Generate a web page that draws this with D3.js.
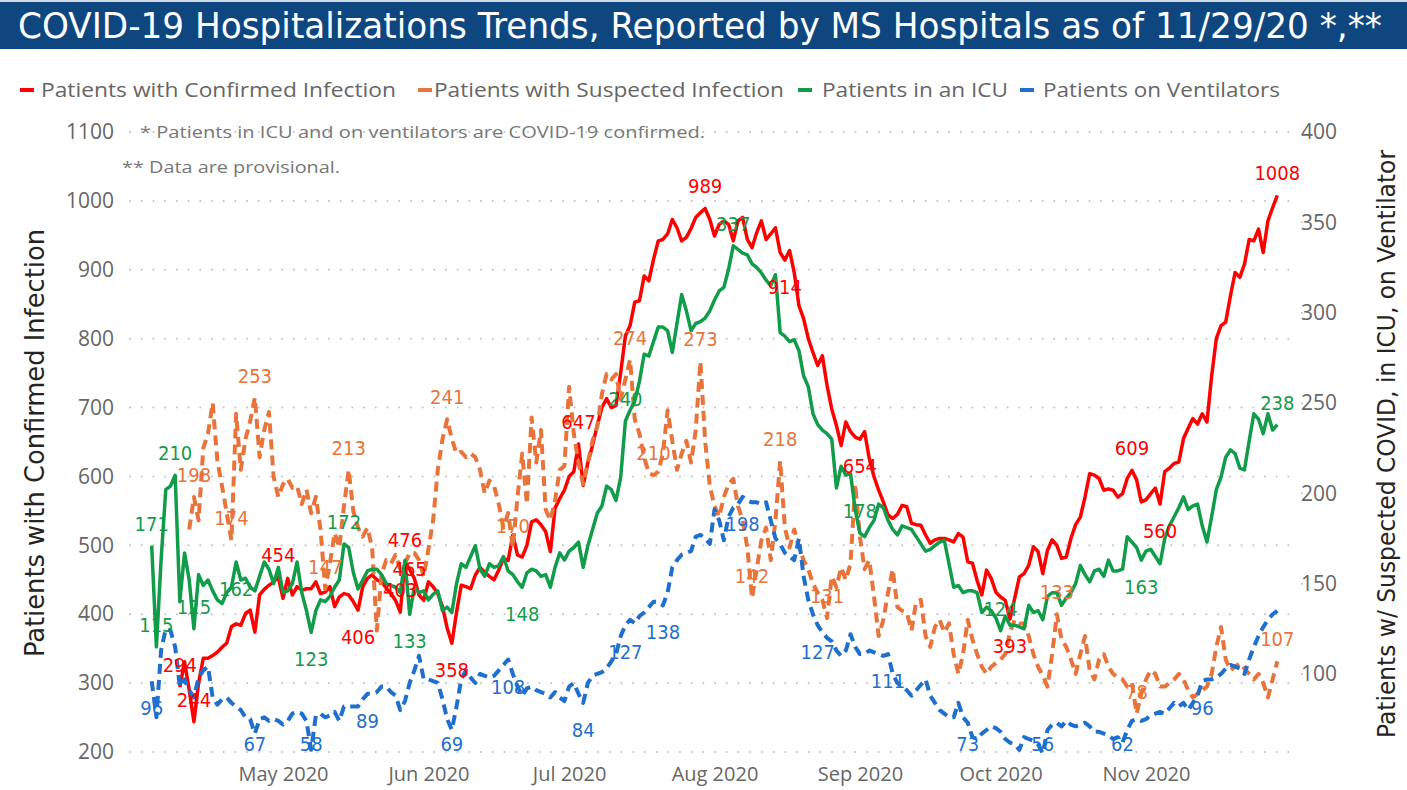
<!DOCTYPE html>
<html>
<head>
<meta charset="utf-8">
<script src="https://cdn.jsdelivr.net/npm/d3@7"></script>
<style>
  body { margin: 0; background: #fff; }
  .tick text { font-family: "Open Sans", "Segoe UI", sans-serif; fill: #666; }
</style>
</head>
<body>
<svg id="chart" width="1407" height="790"></svg>
<script>
// daily dates, Apr 3 .. Nov 29 2020
const days = d3.timeDay.range(new Date(2020, 3, 3), new Date(2020, 10, 30));

const confirmed = [
  null,null,null,null,null,null,294,331,290,244,
  300,336,336,340,345,352,358,382,386,384,
  401,406,374,428,436,442,447,454,423,452,
  428,440,435,437,437,447,430,432,440,411,
  425,430,428,418,406,440,452,457,450,447,
  438,430,420,403,476,465,452,428,420,447,
  440,430,411,380,358,403,442,440,437,457,
  468,461,455,450,464,481,478,515,486,483,
  500,534,537,530,520,491,554,568,580,600,
  607,647,587,620,645,674,700,713,700,703,
  751,804,819,853,855,891,884,915,942,944,
  952,973,961,942,947,960,976,983,989,973,
  949,966,971,966,942,971,976,944,932,954,
  971,944,952,961,925,914,928,896,848,829,
  800,780,761,775,732,698,674,645,679,665,
  657,654,665,626,600,580,563,544,539,545,
  558,556,532,530,529,515,503,508,510,510,
  508,505,517,512,476,474,449,428,464,452,
  432,425,420,393,423,454,459,471,498,491,
  459,493,508,500,481,483,510,530,541,570,
  604,602,597,580,582,580,570,575,597,609,
  595,563,566,575,583,560,607,612,619,621,
  655,670,684,676,691,679,746,800,819,824,
  862,896,889,908,944,942,959,925,971,990,
  1008
];

const suspected = [
  null,null,null,null,null,null,null,null,180,198,
  185,225,233,250,218,204,189,174,244,213,
  230,240,253,220,235,245,209,198,205,208,
  203,204,194,202,189,198,180,147,161,178,
  170,193,213,190,181,176,181,170,124,155,
  163,161,166,158,161,167,167,163,154,169,
  185,213,230,241,230,222,223,220,222,220,
  213,200,207,204,194,181,189,170,198,222,
  194,242,217,235,191,185,196,213,215,259,
  233,217,205,217,229,237,255,266,263,266,
  252,263,274,241,233,220,211,210,212,222,
  246,229,213,222,229,217,235,273,229,204,
  193,187,198,205,208,193,185,170,142,158,
  174,181,163,185,218,181,170,180,170,163,
  158,150,145,141,131,154,148,159,152,161,
  205,176,158,163,143,121,130,145,158,137,
  135,134,124,140,141,121,115,126,130,123,
  128,111,100,111,130,119,111,104,100,104,
  106,108,111,123,130,128,128,121,111,104,
  99,93,111,133,119,115,108,100,111,121,
  102,97,108,111,104,100,98,97,93,95,
  78,89,97,102,100,93,93,95,97,100,
  97,91,87,89,91,93,100,115,126,108,
  102,104,106,103,100,97,100,95,87,97,
  107
];

const icu = [
  171,115,163,202,204,210,140,167,152,125,
  155,149,152,146,141,139,145,148,162,152,
  153,148,146,154,162,158,150,159,145,146,
  150,162,145,135,123,135,141,140,143,148,
  152,172,170,156,147,152,157,158,158,155,
  150,149,148,145,163,133,148,145,146,141,
  144,146,135,137,134,150,161,159,165,171,
  158,154,161,159,160,165,157,155,151,148,
  156,158,157,154,155,148,159,167,163,168,
  170,173,159,171,180,189,193,204,202,196,
  209,240,246,251,262,277,276,284,292,292,
  290,278,294,310,301,290,294,295,297,301,
  307,312,314,324,337,335,333,332,327,325,
  322,318,315,321,289,287,284,285,279,265,
  259,244,238,235,233,230,203,215,210,211,
  191,178,176,181,185,194,192,185,180,177,
  182,181,180,176,172,168,169,171,173,174,
  161,148,149,145,146,146,145,134,137,135,
  131,124,132,127,127,126,125,138,134,135,
  130,143,145,145,138,142,145,150,160,155,
  151,157,158,154,163,157,157,158,176,173,
  170,163,168,169,165,161,175,182,187,192,
  198,191,193,194,182,173,187,202,209,220,
  224,222,214,213,229,244,241,233,244,235,
  238
];

const ventilators = [
  96,76,113,125,124,115,93,97,91,87,
  98,102,104,87,83,86,87,84,82,80,
  76,75,67,75,76,74,75,74,72,74,
  78,79,78,74,58,77,78,76,77,79,
  74,82,82,82,82,86,89,89,90,93,
  93,90,88,80,85,95,102,110,97,97,
  96,95,86,75,69,82,97,102,98,95,
  100,99,98,99,102,105,108,100,93,88,
  92,93,91,90,89,87,90,87,85,93,
  95,89,84,95,99,100,101,103,107,111,
  121,127,130,128,132,134,137,140,140,138,
  145,159,163,166,167,168,176,177,175,172,
  191,185,174,187,192,194,198,196,195,195,
  194,195,185,175,172,167,165,163,175,154,
  141,133,127,123,120,118,113,110,113,122,
  115,111,111,113,112,111,110,111,100,95,
  93,91,88,91,94,97,88,84,80,78,
  76,76,84,76,73,65,64,67,69,71,
  70,68,64,62,61,58,65,64,63,61,
  56,69,72,73,71,74,72,71,72,73,
  71,68,68,67,66,64,65,62,69,74,
  75,74,75,77,78,79,78,81,84,82,
  84,80,84,88,96,97,97,98,100,103,
  105,104,103,100,108,115,121,126,130,133,
  135
];

const leftTicks = [200, 300, 400, 500, 600, 700, 800, 900, 1000, 1100];
const rightTicks = [100, 150, 200, 250, 300, 350, 400];
const monthTicks = d3.timeMonth.range(new Date(2020, 4, 1), new Date(2020, 11, 1));

// which points carry a data label (day index, a = above, b = below, c = on point)
const confirmedLabels = [[6,'a'],[9,'a'],[27,'a'],[44,'b'],[53,'a'],[54,'a'],[55,'c'],[64,'b'],[91,'a'],[118,'a'],[135,'b'],[151,'b'],[183,'b'],[209,'a'],[215,'b'],[240,'a']];
const suspectedLabels = [[9,'a'],[17,'a'],[22,'a'],[37,'a'],[42,'a'],[63,'a'],[77,'a'],[102,'a'],[107,'a'],[117,'a'],[128,'a'],[134,'a'],[144,'a'],[193,'a'],[210,'a'],[240,'a']];
const icuLabels = [[0,'a'],[1,'a'],[5,'a'],[9,'a'],[18,'b'],[34,'b'],[41,'a'],[55,'b'],[79,'b'],[101,'a'],[124,'a'],[151,'a'],[181,'a'],[211,'b'],[240,'a']];
const ventLabels = [[0,'b'],[22,'b'],[34,'b'],[46,'b'],[64,'b'],[76,'b'],[92,'b'],[101,'b'],[109,'b'],[126,'b'],[142,'b'],[157,'b'],[174,'b'],[190,'b'],[207,'b'],[224,'b']];

const svg = d3.select("#chart");
const plotLeft = 130, plotRight = 1297, plotTop = 132, plotBottom = 752;

const x = d3.scaleTime()
  .domain([days[0], days[days.length - 1]])
  .range([151.7, 1277.3]);
const yLeft = d3.scaleLinear().domain([200, 1100]).range([plotBottom, plotTop]);
const yRight = d3.scaleLinear().domain([56.8, 400]).range([plotBottom, plotTop]);

const narrow = "'Liberation Sans Narrow', 'DejaVu Sans Condensed', sans-serif";

// title bar
svg.append("rect").attr("x", 0).attr("y", 0).attr("width", 1407).attr("height", 2).attr("fill", "#cfd9e5");
svg.append("rect").attr("x", 0).attr("y", 2).attr("width", 1407).attr("height", 47).attr("fill", "#0e4780");
svg.append("text")
  .attr("x", 18).attr("y", 38)
  .attr("textLength", 1364).attr("lengthAdjust", "spacingAndGlyphs")
  .style("font-family", narrow)
  .style("font-size", "36px")
  .attr("fill", "#fff")
  .text("COVID-19 Hospitalizations Trends, Reported by MS Hospitals as of 11/29/20 *,**");

// legend
const legend = [
  { name: "Patients with Confirmed Infection", color: "#ff0000", mx: 20, tx: 41, tw: 355 },
  { name: "Patients with Suspected Infection", color: "#e8743b", mx: 418, tx: 434, tw: 350 },
  { name: "Patients in an ICU", color: "#119c4a", mx: 798, tx: 822, tw: 186 },
  { name: "Patients on Ventilators", color: "#1f6fce", mx: 1020, tx: 1043, tw: 237 }
];
const lg = svg.append("g").attr("class", "legend");
legend.forEach(d => {
  lg.append("rect").attr("x", d.mx).attr("y", 88).attr("width", 14).attr("height", 4).attr("fill", d.color);
  lg.append("text")
    .attr("x", d.tx).attr("y", 97)
    .attr("textLength", d.tw).attr("lengthAdjust", "spacingAndGlyphs")
    .style("font-family", "'Open Sans', sans-serif").style("font-size", "20px")
    .attr("fill", "#666").text(d.name);
});

// gridlines
svg.append("g").selectAll("line")
  .data(leftTicks).enter().append("line")
  .attr("x1", plotLeft).attr("x2", plotRight)
  .attr("y1", d => yLeft(d)).attr("y2", d => yLeft(d))
  .attr("stroke", "#c4c4c4").attr("stroke-width", 2)
  .attr("stroke-linecap", "round").attr("stroke-dasharray", "0.1 11.6");

svg.append("g").selectAll("circle")
  .data(rightTicks.slice(0, -1)).enter().append("circle")
  .attr("cx", 1302).attr("cy", d => yRight(d)).attr("r", 1).attr("fill", "#c4c4c4");

// axes
const leftAxis = svg.append("g")
  .attr("transform", "translate(114,0)")
  .call(d3.axisLeft(yLeft).tickValues(leftTicks).tickFormat(d3.format("d")).tickSize(0).tickPadding(0));
leftAxis.select(".domain").remove();
leftAxis.selectAll("text").style("font-size", "21px");

const rightAxis = svg.append("g")
  .attr("transform", "translate(1301,0)")
  .call(d3.axisRight(yRight).tickValues(rightTicks).tickSize(0).tickPadding(0));
rightAxis.select(".domain").remove();
rightAxis.selectAll("text").style("font-size", "21px");

const xAxis = svg.append("g")
  .attr("transform", "translate(0,767)")
  .call(d3.axisBottom(x).tickValues(monthTicks).tickFormat(d3.timeFormat("%b %Y")).tickSize(0).tickPadding(0));
xAxis.select(".domain").remove();
xAxis.selectAll("text").style("font-size", "20px").attr("dy", "0.71em");

// axis titles
svg.append("text")
  .attr("transform", "translate(44,443) rotate(-90)")
  .attr("text-anchor", "middle")
  .attr("textLength", 428).attr("lengthAdjust", "spacingAndGlyphs")
  .style("font-family", narrow)
  .style("font-size", "26px").attr("fill", "#252423")
  .text("Patients with Confirmed Infection");

svg.append("text")
  .attr("transform", "translate(1395,444) rotate(-90)")
  .attr("text-anchor", "middle")
  .attr("textLength", 588).attr("lengthAdjust", "spacingAndGlyphs")
  .style("font-family", narrow)
  .style("font-size", "25px").attr("fill", "#252423")
  .text("Patients w/ Suspected COVID, in ICU, on Ventilator");

// notes
svg.append("text")
  .attr("x", 140).attr("y", 138)
  .attr("textLength", 565).attr("lengthAdjust", "spacingAndGlyphs")
  .style("font-family", "'Open Sans', sans-serif").style("font-size", "17px")
  .attr("fill", "#777").text("* Patients in ICU and on ventilators are COVID-19 confirmed.");
svg.append("text")
  .attr("x", 122).attr("y", 173)
  .attr("textLength", 218).attr("lengthAdjust", "spacingAndGlyphs")
  .style("font-family", "'Open Sans', sans-serif").style("font-size", "17px")
  .attr("fill", "#777").text("** Data are provisional.");

// series
const series = [
  { values: confirmed, y: yLeft, color: "#ff0000", dash: null, labels: confirmedLabels },
  { values: suspected, y: yRight, color: "#e8743b", dash: "10 6", labels: suspectedLabels },
  { values: icu, y: yRight, color: "#119c4a", dash: null, labels: icuLabels },
  { values: ventilators, y: yRight, color: "#1f6fce", dash: "10 6", labels: ventLabels }
];

series.forEach(s => {
  const line = d3.line()
    .defined(d => d != null)
    .x((d, i) => x(days[i]))
    .y(d => s.y(d));
  svg.append("path")
    .datum(s.values)
    .attr("d", line)
    .attr("fill", "none")
    .attr("stroke", s.color)
    .attr("stroke-width", s.dash ? 4 : 3.5)
    .attr("stroke-linejoin", "round")
    .attr("stroke-dasharray", s.dash);
});

series.forEach(s => {
  svg.append("g").selectAll("text")
    .data(s.labels).enter().append("text")
    .attr("x", d => x(days[d[0]]))
    .attr("y", d => {
      const py = s.y(s.values[d[0]]);
      const off = d[1] === 'a' ? -22 : d[1] === 'b' ? 27 : 0;
      return Math.min(py + off, 744);
    })
    .attr("text-anchor", "middle")
    .attr("dominant-baseline", "central")
    .style("font-family", narrow)
    .style("font-size", "20px")
    .attr("fill", s.color)
    .text(d => s.values[d[0]]);
});
</script>
</body>
</html>
